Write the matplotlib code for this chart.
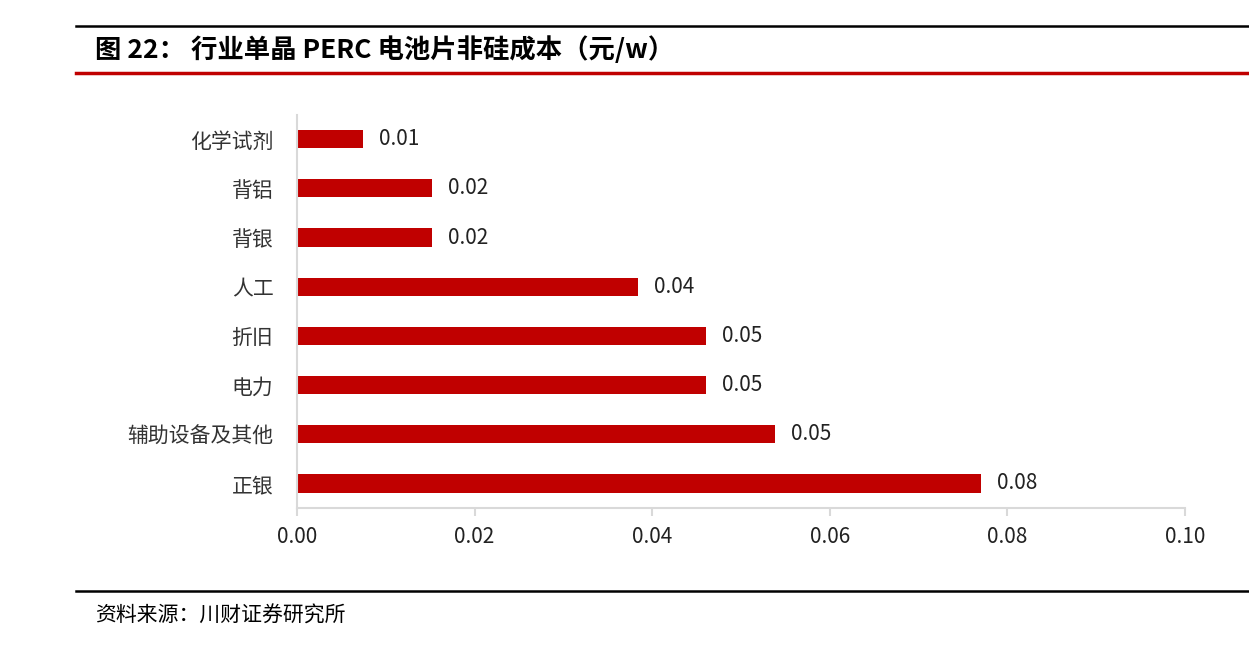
import matplotlib.pyplot as plt
from matplotlib.lines import Line2D

plt.rcParams['font.family'] = ['Noto Sans CJK SC', 'DejaVu Sans']

# data (top to bottom)
categories = ['化学试剂', '背铝', '背银', '人工', '折旧', '电力', '辅助设备及其他', '正银']
values = [0.0074, 0.0152, 0.0152, 0.0384, 0.0461, 0.0461, 0.0538, 0.0770]
value_labels = ['0.01', '0.02', '0.02', '0.04', '0.05', '0.05', '0.05', '0.08']
xticks = [0.00, 0.02, 0.04, 0.06, 0.08, 0.10]

fig = plt.figure(figsize=(12.49, 6.56), dpi=100)
ax = fig.add_axes([0.2378, 0.2256, 0.711, 0.5997])

ypos = list(range(len(categories)))
ax.barh(ypos, values, height=0.37, color='#c00000')
for y, v, lab in zip(ypos, values, value_labels):
    ax.text(v + 0.0018, y, lab, va='center', ha='left', fontsize=15, color='#222222')

ax.set_yticks(ypos)
ax.set_yticklabels(categories, fontsize=15, color='#333333')
ax.set_ylim(len(categories) - 0.5, -0.5)
ax.set_xlim(0, 0.10)
ax.set_xticks(xticks)
ax.set_xticklabels(['%.2f' % t for t in xticks], fontsize=15, color='#222222')

for s in ['top', 'right']:
    ax.spines[s].set_visible(False)
for s in ['left', 'bottom']:
    ax.spines[s].set_color('#d9d9d9')
    ax.spines[s].set_linewidth(1.5)
ax.tick_params(axis='y', length=0, pad=17)
ax.tick_params(axis='x', length=6, width=1.5, color='#d9d9d9', pad=7)

# header / footer rules
fig.add_artist(Line2D([76/1249, 1], [1 - 26/656] * 2, color='black', lw=1.8))
fig.add_artist(Line2D([76/1249, 1], [1 - 73/656] * 2, color='#c00000', lw=2.5))
fig.add_artist(Line2D([76/1249, 1], [1 - 591/656] * 2, color='black', lw=1.8))

fig.text(95/1249, 1 - 50/656, '图 22： 行业单晶 PERC 电池片非硅成本（元/w）',
         fontsize=19, fontweight='bold', va='center', ha='left', color='black')
fig.text(95/1249, 1 - 616/656, '资料来源：川财证券研究所',
         fontsize=15, style='italic', va='center', ha='left', color='black')

fig.savefig('out.png', dpi=100)
